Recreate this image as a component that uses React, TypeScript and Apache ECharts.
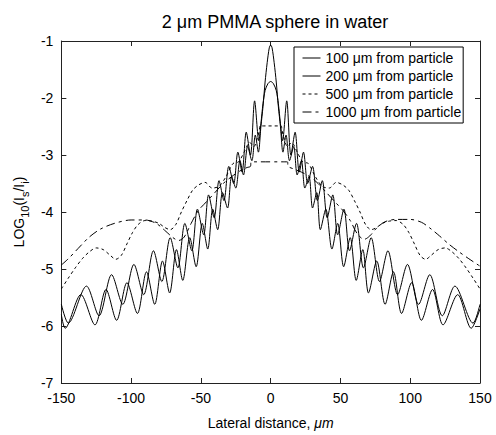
import React, { useEffect, useRef } from "react";
import * as echarts from "echarts";

const titleText = "2 \u03bcm PMMA sphere in water";
const seriesNames = [
  "100 \u03bcm from particle",
  "200 \u03bcm from particle",
  "500 \u03bcm from particle",
  "1000 \u03bcm from particle",
];

const xRange = [-150, 150];
const yRange = [-7, -1];

const curve100: number[][] = [
  [-150, -5.8], [-147.3, -6.04], [-136, -5.45], [-125.9, -5.98], [-118, -5.36], [-110.4, -5.9],
  [-103, -5.24], [-95.5, -5.78], [-89, -5.05], [-83.1, -5.62], [-77.5, -4.86], [-72.4, -5.42],
  [-67.5, -4.66], [-63, -5.2], [-58, -4.45], [-53.4, -4.96], [-49, -4.2], [-45.1, -4.65],
  [-41.5, -3.95], [-38, -4.31], [-34.5, -3.66], [-30.9, -3.93], [-28, -3.38], [-25, -3.58],
  [-22, -3.1], [-19.5, -3.35], [-16.5, -2.85], [-13.5, -3.1], [-11, -2.65], [-8.8, -2.95],
  [-7, -2.5], [-5.5, -2.15], [-4, -1.72], [-2.5, -1.38], [-1, -1.12], [0, -1.07],
  [1, -1.12], [2.5, -1.38], [4, -1.72], [5.5, -2.15], [7, -2.5], [8.8, -2.95],
  [11, -2.65], [13.5, -3.1], [16.5, -2.85], [19, -3.35], [22, -3.1], [24.5, -3.58],
  [27.5, -3.38], [30, -3.93], [33, -3.66], [35.6, -4.31], [39.5, -3.95], [43.9, -4.65],
  [48, -4.2], [52.3, -4.96], [57, -4.45], [61.3, -5.2], [66, -4.66], [70.1, -5.42],
  [76, -4.86], [82, -5.62], [88, -5.05], [93.8, -5.78], [101, -5.24], [108, -5.9],
  [116, -5.36], [123.5, -5.98], [134, -5.45], [143.7, -6.04], [150, -5.7],
];

const curve200: number[][] = [
  [-150, -5.62], [-145, -5.95], [-132, -5.3], [-123, -5.82], [-114, -5.1], [-106, -5.62],
  [-98, -4.92], [-91, -5.45], [-84, -4.68], [-78, -5.22], [-72, -4.45], [-66.5, -4.98],
  [-61.5, -4.2], [-56.5, -4.68], [-52.5, -3.95], [-48, -4.4], [-44.5, -3.7], [-40.5, -4.1],
  [-37, -3.45], [-33.5, -3.8], [-30, -3.2], [-26.5, -3.5], [-23.5, -2.95], [-20.5, -3.3],
  [-17.5, -2.6], [-14.5, -3.0], [-11.5, -2.05], [-8.5, -2.75], [-7, -2.45], [-5.5, -2.1],
  [-4, -1.87], [-2, -1.75], [0, -1.71], [2, -1.75], [4, -1.87], [5.5, -2.1],
  [7, -2.45], [8.5, -2.75], [11.5, -2.05], [14.5, -3.0], [17.5, -2.6], [20.5, -3.3],
  [23.5, -2.95], [26.5, -3.5], [30, -3.2], [33.5, -3.8], [37, -3.45], [40.5, -4.1],
  [44.5, -3.7], [48, -4.4], [52.5, -3.95], [56.5, -4.68], [61.5, -4.2], [66.5, -4.98],
  [72, -4.45], [78, -5.22], [84, -4.68], [91, -5.45], [98, -4.92], [106, -5.62],
  [114, -5.1], [123, -5.82], [132, -5.3], [145, -5.95], [150, -5.62],
];

const curve500: number[][] = [
  [-150, -5.35], [-145, -5.16], [-140, -4.98], [-135, -4.82], [-130, -4.7], [-125, -4.63],
  [-120, -4.66], [-115, -4.76], [-111, -4.83], [-107, -4.76], [-103, -4.56], [-99, -4.36],
  [-95, -4.22], [-90, -4.15], [-85, -4.16], [-80, -4.2], [-76, -4.27], [-72, -4.31],
  [-68, -4.22], [-64, -4.0], [-60, -3.8], [-56, -3.62], [-52, -3.53], [-47, -3.48],
  [-42, -3.58], [-37, -3.55], [-32, -3.38], [-27, -3.15], [-23, -3.12], [-19, -2.95],
  [-15, -2.78], [-12, -2.85], [-9.5, -2.7], [-8, -2.55], [-7.5, -2.49], [7.5, -2.49],
  [8, -2.55], [9.5, -2.7], [12, -2.85], [15, -2.78], [19, -2.95], [23, -3.12],
  [27, -3.15], [32, -3.38], [37, -3.55], [42, -3.58], [47, -3.48], [52, -3.53],
  [56, -3.62], [60, -3.8], [64, -4.0], [68, -4.22], [72, -4.31], [76, -4.27],
  [80, -4.2], [85, -4.16], [90, -4.15], [95, -4.22], [99, -4.36], [103, -4.56],
  [107, -4.76], [111, -4.83], [115, -4.76], [120, -4.66], [125, -4.63], [130, -4.7],
  [135, -4.82], [140, -4.98], [145, -5.16], [150, -5.35],
];

const curve1000: number[][] = [
  [-150, -4.93], [-145, -4.82], [-138, -4.64], [-130, -4.44], [-122, -4.3], [-112, -4.2],
  [-100, -4.14], [-90, -4.14], [-82, -4.2], [-76, -4.32], [-70, -4.45], [-66, -4.5],
  [-62, -4.44], [-57, -4.2], [-52, -3.98], [-46, -3.82], [-40, -3.66], [-34, -3.5],
  [-28, -3.38], [-22, -3.28], [-17, -3.22], [-14.5, -3.2], [-14, -3.12], [12, -3.12],
  [12.5, -3.2], [16, -3.24], [22, -3.3], [28, -3.38], [34, -3.5], [40, -3.66],
  [46, -3.82], [52, -3.98], [57, -4.15], [62, -4.38], [67, -4.48], [71, -4.42],
  [76, -4.28], [82, -4.17], [90, -4.13], [100, -4.13], [108, -4.18], [114, -4.28],
  [121, -4.42], [128, -4.57], [135, -4.7], [142, -4.82], [150, -4.95],
];

const FONT = "Arial, 'Liberation Sans', Helvetica, sans-serif";

export default function App() {
  const ref = useRef<HTMLDivElement>(null);
  useEffect(() => {
    if (!ref.current) return;
    const chart = echarts.init(ref.current, undefined, { renderer: "svg" });
    const axisLineStyle = { color: "#222", width: 1 };
    const lineSeries = (name: string, data: number[][], type: any) => ({
      name,
      type: "line",
      data,
      showSymbol: false,
      symbol: "none",
      smooth: 0.3,
      lineStyle: { color: "#000", width: 1, type },
      itemStyle: { color: "#000" },
    });
    chart.setOption({
      animation: false,
      backgroundColor: "#fff",
      textStyle: { fontFamily: FONT },
      title: {
        text: titleText,
        left: 270,
        textAlign: "center",
        top: 8,
        textStyle: { fontSize: 18, fontWeight: "normal", color: "#000", fontFamily: FONT },
      },
      grid: { left: 60, right: 16, top: 41, bottom: 49 },
      legend: {
        orient: "vertical",
        left: 294,
        top: 47,
        padding: [4, 2, 4, 8],
        itemGap: 4,
        itemWidth: 18,
        itemHeight: 14,
        itemTextGap: 12,
        backgroundColor: "#fff",
        borderColor: "#000",
        borderWidth: 1,
        borderRadius: 0,
        itemStyle: { color: "transparent", borderColor: "transparent", borderWidth: 0, opacity: 0 },
        lineStyle: { width: 1, color: "#000" },
        textStyle: { fontSize: 14, color: "#000", fontFamily: FONT },
        data: seriesNames,
      },
      xAxis: [
        {
          type: "value",
          min: xRange[0],
          max: xRange[1],
          interval: 50,
          name: "Lateral distance, {it|\u03bcm}",
          nameLocation: "middle",
          nameGap: 33,
          nameTextStyle: {
            fontSize: 14,
            color: "#000",
            fontFamily: FONT,
            rich: { it: { fontSize: 14, fontStyle: "italic", color: "#000", fontFamily: FONT } },
          },
          axisLine: { show: true, onZero: false, lineStyle: axisLineStyle },
          axisTick: { show: true, inside: true, length: 5, lineStyle: axisLineStyle },
          axisLabel: { fontSize: 14, color: "#000", margin: 8, fontFamily: FONT },
          splitLine: { show: false },
        },
        {
          type: "value",
          position: "top",
          min: xRange[0],
          max: xRange[1],
          interval: 50,
          axisLine: { show: true, onZero: false, lineStyle: axisLineStyle },
          axisTick: { show: true, inside: true, length: 5, lineStyle: axisLineStyle },
          axisLabel: { show: false },
          splitLine: { show: false },
        },
      ],
      yAxis: [
        {
          type: "value",
          min: yRange[0],
          max: yRange[1],
          interval: 1,
          name: "LOG{sub|10}(I{sub|s}/I{sub|i})",
          nameLocation: "middle",
          nameGap: 28,
          nameTextStyle: {
            fontSize: 14,
            color: "#000",
            fontFamily: FONT,
            lineHeight: 22,
            rich: {
              sub: { fontSize: 11, color: "#000", fontFamily: FONT, verticalAlign: "bottom", lineHeight: 22, padding: [6, 0, 0, 0] },
            },
          },
          axisLine: { show: true, onZero: false, lineStyle: axisLineStyle },
          axisTick: { show: true, inside: true, length: 5, lineStyle: axisLineStyle },
          axisLabel: { fontSize: 14, color: "#000", margin: 8, fontFamily: FONT },
          splitLine: { show: false },
        },
        {
          type: "value",
          position: "right",
          min: yRange[0],
          max: yRange[1],
          interval: 1,
          axisLine: { show: true, onZero: false, lineStyle: axisLineStyle },
          axisTick: { show: true, inside: true, length: 5, lineStyle: axisLineStyle },
          axisLabel: { show: false },
          splitLine: { show: false },
        },
      ],
      series: [
        lineSeries(seriesNames[0], curve100, "solid"),
        lineSeries(seriesNames[1], curve200, "solid"),
        lineSeries(seriesNames[2], curve500, [3, 3]),
        lineSeries(seriesNames[3], curve1000, [9, 4, 3, 4]),
      ],
    });
    return () => chart.dispose();
  }, []);
  return (
    <div
      ref={ref}
      style={{ position: "absolute", left: 0, top: 0, width: 496, height: 435, background: "#fff" }}
    />
  );
}
